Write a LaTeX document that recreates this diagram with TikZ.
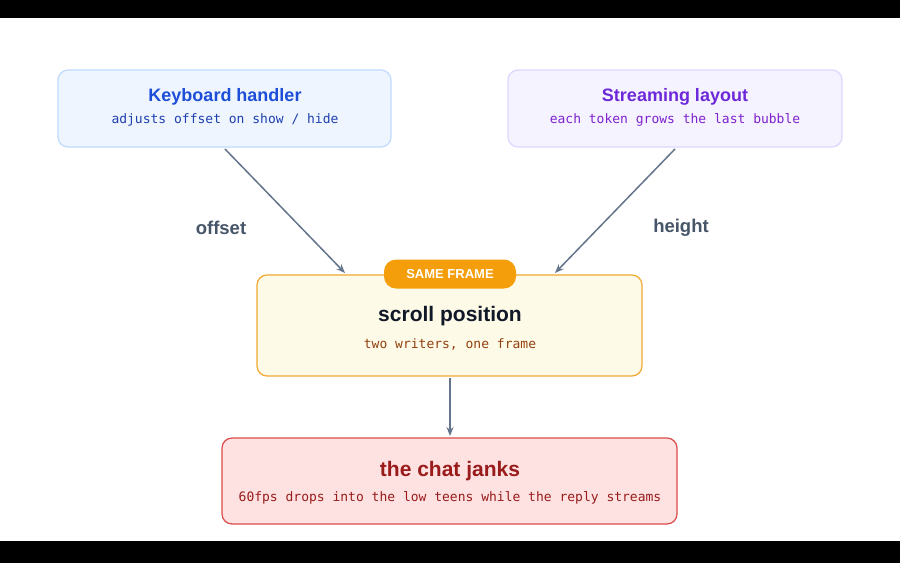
\documentclass[tikz,border=0pt]{standalone}
\usepackage{fontspec}
\setmainfont{Liberation Sans}
\setmonofont{DejaVu Sans Mono}
\usetikzlibrary{arrows.meta}
\definecolor{kbfill}{HTML}{EEF5FE}\definecolor{kbline}{HTML}{BFDBFE}
\definecolor{kbtitle}{HTML}{1D4ED8}\definecolor{kbsub}{HTML}{1E40AF}
\definecolor{stfill}{HTML}{F5F3FF}\definecolor{stline}{HTML}{DDD6FE}
\definecolor{sttitle}{HTML}{6D28D9}\definecolor{stsub}{HTML}{7E22CE}
\definecolor{scfill}{HTML}{FEFAE8}\definecolor{scline}{HTML}{F0A830}
\definecolor{sctitle}{HTML}{111827}\definecolor{scsub}{HTML}{92400E}
\definecolor{pill}{HTML}{F59E0B}
\definecolor{chfill}{HTML}{FEE2E2}\definecolor{chline}{HTML}{DC4A4A}
\definecolor{chtitle}{HTML}{991B1B}
\definecolor{arr}{HTML}{64748B}\definecolor{lbl}{HTML}{475569}
\tikzset{
  box/.style={rounded corners=10pt, line width=1.2pt, inner sep=0pt},
  ttl/.style={font=\bfseries\fontsize{18}{21}\selectfont},
  bigttl/.style={font=\bfseries\fontsize{21}{24}\selectfont},
  sub/.style={font=\ttfamily\fontsize{13}{15}\selectfont},
  conn/.style={draw=arr, line width=1.5pt, -{Stealth[length=9pt,width=7pt]}},
  lab/.style={text=lbl, font=\bfseries\fontsize{18.5}{21}\selectfont}
}
\begin{document}
\begin{tikzpicture}[x=1pt,y=-1pt]
\fill[black] (0,0) rectangle (900,563);
\fill[white] (0,18) rectangle (900,541);
\useasboundingbox (0,0) rectangle (900,563);
% boxes
\draw[box, fill=kbfill, draw=kbline] (58,70) rectangle (391,147);
\node[ttl, text=kbtitle] (kbt) at (225,97) {Keyboard handler};
\node[sub, text=kbsub] (kbs) at (225,120) {adjusts offset on show / hide};
\coordinate (kb) at (225,149);
\draw[box, fill=stfill, draw=stline] (508,70) rectangle (842,147);
\node[ttl, text=sttitle] (stt) at (675,97) {Streaming layout};
\node[sub, text=stsub] (sts) at (675,120) {each token grows the last bubble};
\coordinate (st) at (675,149);
\draw[box, fill=scfill, draw=scline] (257,275) rectangle (642,376);
\node[bigttl, text=sctitle] (sct) at (450,316) {scroll position};
\node[sub, text=scsub] (scs) at (450,344) {two writers, one frame};
\coordinate (scl) at (345,273);\coordinate (scr) at (555,273);\coordinate (scb) at (450,378);
\node[fill=pill, rounded corners=12pt, minimum width=132pt, minimum height=29pt, inner sep=0pt,
  text=white, font=\bfseries\fontsize{13}{15}\selectfont] (pill) at (450,274) {SAME FRAME};
\draw[box, fill=chfill, draw=chline] (222,438) rectangle (677,524);
\node[bigttl, text=chtitle] (cht) at (450,471) {the chat janks};
\node[sub, text=chtitle] (chs) at (450,498) {60fps drops into the low teens while the reply streams};
\coordinate (ch) at (450,436);
% connectors
\draw[conn] (kb) -- (scl);
\draw[conn] (st) -- (scr);
\draw[conn] (scb) -- (ch);
\node[lab] (l1) at (221,228) {offset};
\node[lab] (l2) at (681,228) {height};
\end{tikzpicture}
\end{document}
